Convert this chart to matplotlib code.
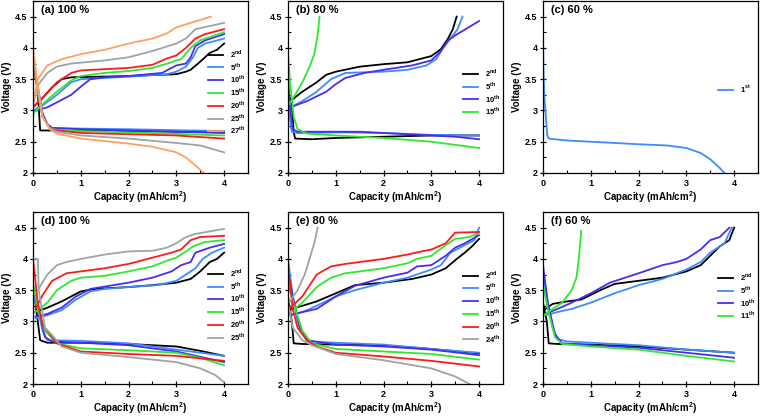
import matplotlib
matplotlib.use('Agg')
import matplotlib.pyplot as plt
from matplotlib.ticker import MultipleLocator

plt.rcParams['font.family'] = ['Liberation Sans', 'DejaVu Sans']
plt.rcParams['font.weight'] = 'bold'
plt.rcParams['mathtext.fontset'] = 'custom'
plt.rcParams['mathtext.bf'] = 'Liberation Sans:bold'
plt.rcParams['mathtext.rm'] = 'Liberation Sans:bold'

# colours per cycle
COLORS = {'1st': '#3c8cff', '2nd': '#000000', '5th': '#3c8cff', '10th': '#4a2cf0',
          '11th': '#2ee82e', '15th': '#2ee82e', '20th': '#ff1a1a', '24th': '#9aa5a5',
          '25th': '#9aa5a5', '27th': '#ffa060'}

# ---- (a) 100 % ----
A_CYCLES = ['2nd', '5th', '10th', '15th', '20th', '25th', '27th']
A_CHARGE = {
    '2nd': ([0, 0.2, 0.4, 0.6, 0.8, 2.0, 3.0, 3.2, 3.3, 3.5, 3.7, 3.85, 4.0],
            [3.05, 3.2, 3.37, 3.5, 3.53, 3.55, 3.58, 3.62, 3.65, 3.78, 3.92, 3.97, 4.07]),
    '5th': ([0, 0.2, 0.5, 0.8, 1.0, 2.0, 2.8, 3.0, 3.2, 3.35, 3.45, 3.6, 4.0],
            [3.0, 3.08, 3.25, 3.45, 3.5, 3.54, 3.58, 3.62, 3.7, 3.85, 4.0, 4.07, 4.15]),
    '10th': ([0, 0.3, 0.6, 0.8, 1.0, 1.2, 1.5, 2.0, 2.7, 3.0, 3.2, 3.3, 3.4, 3.6, 4.0],
             [2.98, 3.05, 3.17, 3.25, 3.38, 3.5, 3.53, 3.55, 3.6, 3.72, 3.75, 3.85, 4.03, 4.12, 4.22]),
    '15th': ([0, 0.2, 0.5, 0.8, 1.0, 1.5, 2.0, 2.5, 2.9, 3.0, 3.1, 3.3, 3.5, 4.0],
             [2.95, 3.1, 3.3, 3.48, 3.55, 3.6, 3.63, 3.68, 3.77, 3.8, 3.82, 4.0, 4.12, 4.25]),
    '20th': ([0, 0.2, 0.5, 0.8, 1.0, 2.0, 2.5, 2.8, 3.0, 3.2, 3.4, 3.6, 4.0],
             [3.05, 3.2, 3.45, 3.6, 3.64, 3.68, 3.73, 3.83, 3.88, 4.0, 4.15, 4.22, 4.3]),
    '25th': ([0, 0.1, 0.3, 0.5, 0.8, 1.5, 2.0, 2.5, 3.0, 3.2, 3.4, 3.7, 4.0],
             [3.1, 3.4, 3.6, 3.7, 3.75, 3.8, 3.85, 3.95, 4.07, 4.15, 4.3, 4.35, 4.4]),
    '27th': ([0, 0.1, 0.3, 0.6, 1.0, 1.5, 2.0, 2.5, 2.8, 3.0, 3.3, 3.72],
             [3.1, 3.5, 3.72, 3.82, 3.9, 3.97, 4.07, 4.15, 4.23, 4.33, 4.4, 4.5]),
}
A_DISCHARGE = {
    '2nd': ([0, 0.05, 0.1, 0.15, 0.5, 2.0, 4.0], [3.75, 3.6, 3.3, 2.68, 2.68, 2.67, 2.65]),
    '5th': ([0, 0.1, 0.2, 0.3, 0.4, 1.0, 2.0, 4.0], [3.75, 3.4, 2.95, 2.78, 2.72, 2.71, 2.7, 2.67]),
    '10th': ([0, 0.1, 0.2, 0.3, 0.4, 1.0, 2.0, 4.0], [3.7, 3.35, 2.95, 2.78, 2.72, 2.7, 2.68, 2.64]),
    '15th': ([0, 0.1, 0.2, 0.35, 0.5, 1.0, 2.0, 4.0], [3.8, 3.3, 2.9, 2.72, 2.69, 2.67, 2.65, 2.6]),
    '20th': ([0, 0.1, 0.2, 0.35, 0.5, 1.0, 2.0, 3.0, 4.0], [3.8, 3.3, 2.9, 2.72, 2.68, 2.64, 2.62, 2.6, 2.55]),
    '25th': ([0, 0.1, 0.2, 0.35, 0.5, 1.0, 2.0, 3.0, 3.5, 4.0], [3.9, 3.3, 2.9, 2.72, 2.66, 2.6, 2.55, 2.48, 2.44, 2.33]),
    '27th': ([0, 0.1, 0.2, 0.35, 0.5, 1.0, 2.0, 2.5, 3.0, 3.2, 3.4, 3.58],
             [4.0, 3.4, 2.9, 2.7, 2.63, 2.55, 2.47, 2.42, 2.33, 2.25, 2.12, 2.0]),
}

# ---- (b) 80 % ----
B_CYCLES = ['2nd', '5th', '10th', '15th']
B_CHARGE = {
    '2nd': ([0.05, 0.3, 0.6, 0.8, 1.0, 1.5, 2.0, 2.5, 3.0, 3.2, 3.35, 3.45, 3.53],
            [3.15, 3.3, 3.45, 3.57, 3.62, 3.7, 3.74, 3.77, 3.87, 3.98, 4.15, 4.3, 4.5]),
    '5th': ([0.05, 0.3, 0.6, 0.9, 1.2, 2.0, 2.5, 2.9, 3.1, 3.25, 3.4, 3.55, 3.65],
            [3.05, 3.15, 3.3, 3.5, 3.6, 3.62, 3.65, 3.72, 3.82, 4.0, 4.15, 4.3, 4.5]),
    '10th': ([0.05, 0.4, 0.8, 1.0, 1.2, 1.6, 2.0, 2.6, 3.0, 3.2, 3.35, 3.5, 4.0],
             [3.05, 3.15, 3.3, 3.42, 3.52, 3.6, 3.65, 3.72, 3.8, 3.95, 4.12, 4.2, 4.43]),
    '15th': ([0.02, 0.15, 0.3, 0.45, 0.55, 0.62, 0.66],
             [3.1, 3.25, 3.45, 3.7, 3.9, 4.2, 4.5]),
}
B_DISCHARGE = {
    '2nd': ([0, 0.08, 0.12, 0.15, 0.5, 1.0, 2.0, 3.0, 4.0], [3.3, 3.1, 2.65, 2.55, 2.54, 2.56, 2.58, 2.6, 2.6]),
    '5th': ([0, 0.05, 0.08, 0.2, 0.5, 1.0, 2.0, 3.0, 4.0], [3.3, 2.8, 2.66, 2.64, 2.64, 2.65, 2.64, 2.61, 2.6]),
    '10th': ([0, 0.05, 0.1, 0.2, 0.5, 1.5, 2.5, 3.5, 4.0], [3.5, 3.0, 2.7, 2.66, 2.66, 2.66, 2.62, 2.58, 2.54]),
    '15th': ([0, 0.05, 0.12, 0.2, 0.4, 1.0, 2.0, 3.0, 4.0], [3.9, 3.4, 2.9, 2.7, 2.63, 2.6, 2.56, 2.5, 2.4]),
}

# ---- (c) 60 % ----
C_CYCLES = ['1st']
C_CHARGE = {}
C_DISCHARGE = {
    '1st': ([0.0, 0.01, 0.03, 0.06, 0.09, 0.12, 0.5, 1.0, 2.0, 2.6, 3.0, 3.3, 3.5, 3.7, 3.8],
            [4.28, 3.6, 3.2, 2.9, 2.6, 2.55, 2.52, 2.5, 2.46, 2.44, 2.4, 2.32, 2.22, 2.08, 2.0]),
}

# ---- (d) 100 % ----
D_CYCLES = ['2nd', '5th', '10th', '15th', '20th', '25th']
D_CHARGE = {
    '2nd': ([0.05, 0.3, 0.6, 0.8, 1.0, 1.3, 2.0, 2.5, 3.0, 3.3, 3.5, 3.7, 3.85, 4.0],
            [3.15, 3.22, 3.32, 3.4, 3.48, 3.52, 3.55, 3.58, 3.62, 3.68, 3.8, 3.95, 4.0, 4.1]),
    '5th': ([0.05, 0.3, 0.6, 0.9, 1.2, 1.5, 2.0, 2.6, 3.0, 3.2, 3.4, 3.55, 3.75, 4.0],
            [3.05, 3.1, 3.18, 3.35, 3.48, 3.52, 3.55, 3.58, 3.65, 3.75, 3.85, 4.0, 4.1, 4.18]),
    '10th': ([0.05, 0.3, 0.6, 0.9, 1.2, 1.6, 2.0, 2.5, 2.9, 3.1, 3.3, 3.4, 3.7, 4.0],
             [3.08, 3.12, 3.22, 3.4, 3.52, 3.57, 3.62, 3.7, 3.8, 3.9, 3.95, 4.1, 4.18, 4.24]),
    '15th': ([0.05, 0.3, 0.5, 0.8, 1.0, 1.5, 2.0, 2.5, 2.8, 3.0, 3.2, 3.35, 3.6, 4.0],
             [3.15, 3.3, 3.5, 3.65, 3.7, 3.73, 3.8, 3.88, 3.97, 4.02, 4.12, 4.2, 4.27, 4.3]),
    '20th': ([0.05, 0.2, 0.4, 0.7, 1.0, 1.5, 2.0, 2.5, 2.9, 3.1, 3.3, 3.5, 4.0],
             [3.2, 3.42, 3.65, 3.77, 3.8, 3.85, 3.92, 4.02, 4.1, 4.15, 4.3, 4.35, 4.37]),
    '25th': ([0.1, 0.3, 0.5, 0.7, 1.0, 1.5, 2.0, 2.5, 2.8, 3.0, 3.2, 3.4, 4.0],
             [3.5, 3.75, 3.9, 3.95, 4.0, 4.07, 4.12, 4.13, 4.18, 4.25, 4.35, 4.4, 4.48]),
}
D_DISCHARGE = {
    '2nd': ([0, 0.1, 0.15, 0.3, 1.0, 2.0, 3.0, 3.5, 4.0], [3.6, 3.0, 2.7, 2.66, 2.66, 2.64, 2.6, 2.53, 2.45]),
    '5th': ([0, 0.1, 0.2, 0.3, 1.0, 2.0, 3.0, 4.0], [3.4, 3.2, 2.85, 2.7, 2.69, 2.65, 2.55, 2.45]),
    '10th': ([0, 0.15, 0.25, 0.4, 1.0, 2.0, 3.0, 4.0], [3.5, 3.1, 2.75, 2.68, 2.66, 2.62, 2.52, 2.35]),
    '15th': ([0, 0.1, 0.25, 0.5, 1.0, 2.0, 3.0, 3.5, 4.0], [3.6, 3.2, 2.85, 2.65, 2.57, 2.54, 2.5, 2.42, 2.3]),
    '20th': ([0, 0.1, 0.2, 0.35, 0.5, 1.0, 2.0, 3.0, 4.0], [4.0, 3.3, 2.95, 2.8, 2.65, 2.52, 2.48, 2.45, 2.37]),
    '25th': ([0, 0.1, 0.12, 0.25, 0.4, 0.6, 1.0, 2.0, 3.0, 3.5, 3.8, 4.0],
             [4.0, 4.0, 3.5, 2.9, 2.78, 2.6, 2.5, 2.43, 2.35, 2.25, 2.15, 2.03]),
}

# ---- (e) 80 % ----
E_CYCLES = ['2nd', '5th', '10th', '15th', '20th', '24th']
E_CHARGE = {
    '2nd': ([0.05, 0.3, 0.6, 1.0, 1.4, 2.0, 2.6, 3.0, 3.3, 3.5, 3.7, 3.85, 4.0],
            [3.2, 3.25, 3.32, 3.45, 3.58, 3.62, 3.68, 3.75, 3.85, 3.98, 4.1, 4.2, 4.32]),
    '5th': ([0.05, 0.3, 0.6, 1.0, 1.4, 2.0, 2.5, 3.0, 3.2, 3.4, 3.6, 3.9, 4.0],
            [3.1, 3.15, 3.25, 3.4, 3.5, 3.62, 3.7, 3.83, 3.9, 4.1, 4.18, 4.3, 4.5]),
    '10th': ([0.05, 0.3, 0.6, 1.0, 1.4, 2.0, 2.5, 2.7, 3.0, 3.3, 3.5, 3.7, 4.0],
             [3.1, 3.15, 3.2, 3.4, 3.57, 3.7, 3.78, 3.88, 3.9, 4.05, 4.18, 4.25, 4.38]),
    '15th': ([0.05, 0.3, 0.6, 0.9, 1.2, 2.0, 2.5, 2.7, 3.0, 3.3, 3.5, 3.8, 4.0],
             [3.15, 3.3, 3.55, 3.7, 3.77, 3.85, 3.93, 4.0, 4.05, 4.22, 4.32, 4.35, 4.42]),
    '20th': ([0.05, 0.3, 0.6, 0.9, 1.2, 2.0, 2.5, 2.8, 3.0, 3.3, 3.5, 4.0],
             [3.22, 3.4, 3.75, 3.88, 3.92, 4.0, 4.07, 4.12, 4.15, 4.25, 4.42, 4.43]),
    '24th': ([0.02, 0.2, 0.35, 0.45, 0.55, 0.62],
             [3.3, 3.5, 3.75, 4.0, 4.25, 4.5]),
}
E_DISCHARGE = {
    '2nd': ([0, 0.08, 0.12, 0.3, 1.0, 2.0, 3.0, 4.0], [3.4, 3.0, 2.65, 2.64, 2.63, 2.62, 2.56, 2.49]),
    '5th': ([0, 0.1, 0.2, 0.3, 0.4, 1.0, 2.0, 3.0, 4.0], [4.0, 3.4, 3.0, 2.8, 2.68, 2.66, 2.63, 2.56, 2.5]),
    '10th': ([0, 0.1, 0.25, 0.4, 1.0, 2.0, 3.0, 4.0], [3.8, 3.4, 2.9, 2.7, 2.63, 2.6, 2.55, 2.46]),
    '15th': ([0, 0.15, 0.3, 0.5, 1.0, 2.0, 3.0, 4.0], [3.6, 3.2, 2.85, 2.65, 2.56, 2.52, 2.48, 2.39]),
    '20th': ([0, 0.1, 0.2, 0.4, 0.6, 1.0, 2.0, 3.0, 4.0], [3.9, 3.2, 2.9, 2.7, 2.6, 2.5, 2.44, 2.37, 2.28]),
    '24th': ([0, 0.1, 0.3, 0.5, 1.0, 2.0, 3.0, 3.5, 3.8], [3.3, 2.9, 2.7, 2.62, 2.48, 2.38, 2.25, 2.12, 2.0]),
}

# ---- (f) 60 % ----
F_CYCLES = ['2nd', '5th', '10th', '11th']
F_CHARGE = {
    '2nd': ([0.05, 0.2, 0.5, 0.8, 1.2, 1.5, 2.0, 2.5, 3.0, 3.3, 3.5, 3.7, 3.9, 4.0],
            [3.2, 3.28, 3.32, 3.35, 3.5, 3.6, 3.65, 3.7, 3.8, 3.9, 4.05, 4.2, 4.3, 4.5]),
    '5th': ([0.05, 0.3, 0.6, 1.0, 1.5, 2.0, 2.5, 3.0, 3.3, 3.5, 3.8, 3.95],
            [3.1, 3.15, 3.2, 3.3, 3.45, 3.58, 3.68, 3.83, 3.95, 4.1, 4.25, 4.5]),
    '10th': ([0.05, 0.3, 0.6, 1.0, 1.4, 2.0, 2.5, 2.8, 3.0, 3.3, 3.5, 3.7, 3.9],
             [3.12, 3.2, 3.3, 3.45, 3.62, 3.77, 3.9, 3.95, 4.0, 4.15, 4.3, 4.35, 4.5]),
    '11th': ([0.02, 0.2, 0.4, 0.6, 0.7, 0.75, 0.8],
             [3.1, 3.2, 3.3, 3.5, 3.7, 4.0, 4.45]),
}
F_DISCHARGE = {
    '2nd': ([0, 0.08, 0.12, 0.3, 1.0, 2.0, 3.0, 4.0], [3.3, 3.0, 2.65, 2.64, 2.63, 2.6, 2.55, 2.5]),
    '5th': ([0, 0.1, 0.2, 0.3, 0.5, 1.0, 2.0, 3.0, 4.0], [3.8, 3.3, 2.9, 2.72, 2.68, 2.66, 2.62, 2.55, 2.5]),
    '10th': ([0, 0.1, 0.25, 0.4, 1.0, 2.0, 3.0, 4.0], [3.9, 3.3, 2.8, 2.65, 2.62, 2.58, 2.5, 2.42]),
    '11th': ([0, 0.1, 0.25, 0.4, 1.0, 2.0, 3.0, 4.0], [3.6, 3.2, 2.75, 2.64, 2.6, 2.55, 2.45, 2.36]),
}

PANELS = [
    ('(a) 100 %', A_CYCLES, A_CHARGE, A_DISCHARGE, 0.47),
    ('(b) 80 %', B_CYCLES, B_CHARGE, B_DISCHARGE, 0.47),
    ('(c) 60 %', C_CYCLES, C_CHARGE, C_DISCHARGE, 0.49),
    ('(d) 100 %', D_CYCLES, D_CHARGE, D_DISCHARGE, 0.46),
    ('(e) 80 %', E_CYCLES, E_CHARGE, E_DISCHARGE, 0.45),
    ('(f) 60 %', F_CYCLES, F_CHARGE, F_DISCHARGE, 0.51),
]

W, H = 760, 416
fig = plt.figure(figsize=(W / 100, H / 100), dpi=100)

lefts = [33, 288, 543]
tops = [1, 212]
aw, ah = 215, 172


def label(c):
    return c[:-2] + r'$^{\mathbf{' + c[-2:] + '}}$'


for i, (title, cycles, charge, discharge, ly) in enumerate(PANELS):
    row, col = divmod(i, 3)
    ax = fig.add_axes([lefts[col] / W, 1 - (tops[row] + ah) / H, aw / W, ah / H])
    for c in cycles:
        col_c = COLORS[c]
        if c in charge:
            ax.plot(charge[c][0], charge[c][1], color=col_c, lw=1.3, label=label(c))
        if c in discharge:
            ax.plot(discharge[c][0], discharge[c][1], color=col_c, lw=1.3,
                    label=None if c in charge else label(c))
    ax.set_xlim(0, 4.5)
    ax.set_ylim(2, 4.75)
    ax.xaxis.set_major_locator(MultipleLocator(1))
    ax.xaxis.set_minor_locator(MultipleLocator(0.5))
    ax.yaxis.set_minor_locator(MultipleLocator(0.25))
    ax.set_yticks([2, 2.5, 3, 3.5, 4, 4.5])
    ax.set_yticklabels(['2', '2.5', '3', '3.5', '4', '4.5'])
    ax.tick_params(which='major', direction='inout', length=5, width=0.9, labelsize=6.5, pad=1.5)
    ax.tick_params(which='minor', direction='in', length=2, width=0.8)
    for sp in ax.spines.values():
        sp.set_linewidth(0.9)
    for t in ax.get_xticklabels() + ax.get_yticklabels():
        t.set_fontweight('bold')
    ax.set_xlabel('Capacity (mAh/cm$^{\\mathbf{2}}$)', fontsize=7, fontweight='bold', labelpad=1)
    ax.set_ylabel('Voltage (V)', fontsize=7, fontweight='bold', labelpad=2)
    ax.text(0.035, 0.975, title, transform=ax.transAxes, fontsize=8, fontweight='bold',
            va='top', ha='left')
    ax.legend(loc='center left', bbox_to_anchor=(0.79, ly), frameon=False,
              labelspacing=0.1, handlelength=2.0, handletextpad=0.8,
              borderpad=0.2, prop={'weight': 'bold', 'size': 5.5})

fig.savefig('out.png', dpi=100)
